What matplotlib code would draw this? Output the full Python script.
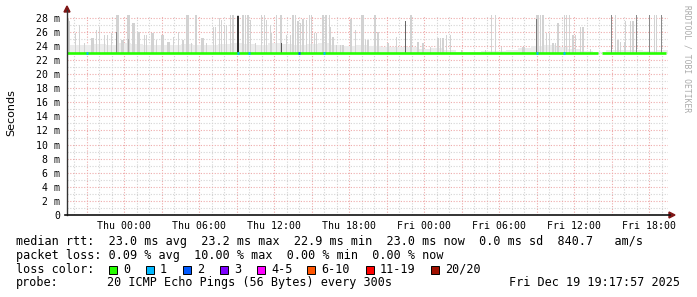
import matplotlib
matplotlib.use("Agg")
import matplotlib.pyplot as plt
from matplotlib.lines import Line2D
from matplotlib.patches import Polygon, Rectangle
import numpy as np

# ---------------- data ----------------
# time axis in hours relative to Thu 00:00
x_start, x_end = -4.58, 43.5
xtick_hours = [0, 6, 12, 18, 24, 30, 36, 42]
xtick_labels = ["Thu 00:00", "Thu 06:00", "Thu 12:00", "Thu 18:00",
                "Fri 00:00", "Fri 06:00", "Fri 12:00", "Fri 18:00"]
ytick_values = list(range(0, 29, 2))
ytick_labels = ["0"] + [f"{v} m" for v in range(2, 29, 2)]
y_top = 28.4

median_ms = 23.0
# light smoke spikes (max ping): time (h), top (ms)
smoke_t = [-4.5, -4.35, -3.9, -3.55, -3.15, -2.65, -2.5, -2.2, -1.95, -1.6, -1.35, -1.0,
           -0.6, -0.5, -0.25, -0.1, 0.3, 0.45, 0.7, 0.85, 1.1, 1.25, 1.6, 1.75, 2.15, 2.3,
           2.6, 2.95, 3.1, 3.5, 3.65, 3.95, 4.35, 4.7, 5.0, 5.1, 5.4, 5.7, 5.8, 6.15, 6.3,
           6.55, 7.15, 7.3, 7.6, 7.75, 8.05, 8.2,
           8.5, 8.7, 9.1, 9.5, 9.7, 9.9, 10.1, 10.5, 11.0, 11.2, 11.4, 11.7, 11.8, 12.2,
           12.5, 12.6, 13.0, 13.3, 13.5, 13.7, 13.9, 14.1, 14.3, 14.6, 14.8, 15.0, 15.2,
           15.4, 15.9, 16.1, 16.2, 16.4, 16.5, 16.7, 17.0, 17.3, 17.5, 18.1, 18.2, 18.5,
           19.0, 19.1, 19.3, 19.5, 20.0, 20.1, 20.3, 21.1, 21.8, 22.5, 22.9, 23.0, 23.5,
           23.9, 24.5, 25.1, 25.3, 25.5, 25.8, 26.1,
           27.0, 28.9, 29.4, 29.7, 30.2, 31.9, 32.0, 33.0, 33.1, 33.3, 33.5, 33.8, 34.0,
           34.3, 34.5, 34.7, 35.2, 35.4, 35.6, 35.9, 36.1, 36.5, 36.7, 37.3,
           39.0, 39.3, 39.5, 39.7, 40.0, 40.1, 40.5, 40.7, 41.0, 42.0, 42.4, 42.6, 43.0]
smoke_top = [27.8, 27.5, 25.8, 27.0, 24.4, 25.1, 25.1, 26.3, 26.7, 25.6, 25.6, 25.8,
             28.4, 28.4, 24.9, 24.9, 28.4, 28.4, 27.2, 27.2, 26.0, 26.0, 25.6, 25.6, 25.8, 25.8,
             24.9, 25.6, 25.6, 24.6, 24.6, 25.3, 26.0, 24.9, 28.4, 28.4, 24.4, 28.4, 28.4, 25.1, 25.1,
             24.4, 26.7, 26.7, 28.0, 27.7, 27.0, 27.0,
             28.4, 28.4, 28.4, 28.4, 28.4, 28.4, 27.7, 24.4, 28.4, 28.4, 27.7, 27.0, 25.8, 28.4,
             28.4, 28.4, 25.6, 25.6, 28.4, 28.4, 27.5, 27.2, 27.9, 27.7, 28.4, 28.4, 25.8,
             25.8, 28.4, 28.4, 28.4, 28.4, 26.7, 25.3, 24.1, 24.1, 24.1, 27.9, 27.9, 26.3,
             28.4, 28.4, 24.9, 24.9, 28.4, 28.4, 26.0, 24.4, 25.3, 27.5, 28.4, 28.4, 24.6,
             24.4, 23.9, 25.1, 25.1, 25.1, 25.6, 25.6,
             23.5, 23.5, 28.4, 28.4, 23.9, 23.9, 23.9, 28.4, 28.4, 28.4, 28.4, 25.8, 25.8,
             24.4, 24.4, 27.2, 28.4, 28.4, 28.4, 25.5, 25.5, 26.7, 26.7, 23.6,
             28.4, 28.4, 24.9, 24.6, 24.6, 27.5, 27.5, 27.5, 28.4, 28.4, 28.4, 28.4, 28.4]
# darker smoke spikes
dark_t = [-0.6, 0.35, 9.1, 12.6, 22.5, 33.0, 39.0, 41.0, 42.0, 43.0]
dark_top = [26.0, 25.0, 28.2, 24.4, 27.5, 27.8, 28.4, 28.4, 28.4, 28.4]
dark_shade = ["#888888", "#aaaaaa", "#303030", "#555555", "#666666", "#777777",
              "#8a8a8a", "#8a8a8a", "#8a8a8a", "#8a8a8a"]

# low smoke band along the median, per hour
base_t = [-4, -3, -2, -1, 0, 1, 2, 3, 4, 5, 6, 7, 8, 9, 10, 11, 12, 13, 14, 15, 16, 17, 18,
          19, 20, 21, 22, 23, 24, 25, 26, 27, 28, 29, 30, 31, 32, 33, 34, 35, 36, 37, 38,
          39, 40, 41, 42, 43]
base_top = [24.2, 24.1, 24.3, 24.2, 24.4, 24.3, 24.2, 24.1, 24.2, 24.3, 24.2, 24.1, 24.3,
            24.4, 24.3, 24.2, 24.4, 24.3, 24.2, 24.3, 24.4, 24.1, 24.0, 24.1, 24.0, 23.9,
            23.8, 23.9, 23.6, 23.7, 23.5, 23.2, 23.2, 23.3, 23.3, 23.5, 23.7, 24.0, 24.1,
            23.9, 23.6, 23.3, 23.2, 23.4, 23.5, 23.4, 23.3, 23.4]

# packet loss segments on the median line: time (h), loss count
loss_t = [-3.0, 9.1, 10.0, 14.0, 16.0, 33.0, 35.2]
loss_n = [1, 1, 1, 2, 1, 1, 1]

loss_colors = {0: "#26ff00", 1: "#00b8ff", 2: "#0059ff", 3: "#7e00ff",
               "4-5": "#ff00ff", "6-10": "#ff5500", "11-19": "#ff0000", "20/20": "#a01000"}
legend_labels = ["0", "1", "2", "3", "4-5", "6-10", "11-19", "20/20"]

rtt_line = "median rtt:  23.0 ms avg  23.2 ms max  22.9 ms min  23.0 ms now  0.0 ms sd  840.7   am/s"
loss_line = "packet loss: 0.09 % avg  10.00 % max  0.00 % min  0.00 % now"
probe_text = "20 ICMP Echo Pings (56 Bytes) every 300s"
date_text = "Fri Dec 19 19:17:57 2025"

# ---------------- figure ----------------
W, H = 697, 297
fig = plt.figure(figsize=(W / 100, H / 100), dpi=100)
fig.patch.set_facecolor("white")

L, R, B, T = 67, 668, 215, 15
ax = fig.add_axes([L / W, 1 - B / H, (R - L) / W, (B - T) / H])
ax.set_xlim(x_start, x_end)
ax.set_ylim(0, y_top)
for s in ax.spines.values():
    s.set_visible(False)

mono = "DejaVu Sans Mono"
dot = (0, (1, 1.5))
# grid
for h in np.arange(np.ceil(x_start), x_end, 1.0):
    major = (int(round(h)) % 3 == 0)
    ax.axvline(h, color="#eeaaaa" if major else "#d4d4d4", lw=0.8, ls=dot, zorder=1)
for v in np.arange(1, y_top, 1.0):
    major = (int(round(v)) % 2 == 0)
    ax.axhline(v, color="#eeaaaa" if major else "#d4d4d4", lw=0.8, ls=dot, zorder=1)

# smoke
px_h = (x_end - x_start) / (R - L)
ax.bar(base_t, np.array(base_top) - median_ms, bottom=median_ms, width=1.0,
       color="#ececec", lw=0, zorder=2, align="center")
ax.bar(smoke_t, np.array(smoke_top) - median_ms, bottom=median_ms, width=1.2 * px_h,
       color="#d2d2d2", lw=0, zorder=2.5, align="center")
ax.bar(dark_t, np.array(dark_top) - median_ms, bottom=median_ms, width=1.1 * px_h,
       color=dark_shade, lw=0, zorder=3, align="center")

# median line
gap_start, gap_end = 37.9, 38.2
ax.plot([x_start, gap_start], [median_ms, median_ms], color=loss_colors[0], lw=1.9,
        solid_capstyle="butt", zorder=4)
ax.plot([gap_end, x_end - 0.2], [median_ms, median_ms], color=loss_colors[0], lw=1.9,
        solid_capstyle="butt", zorder=4)
for t, n in zip(loss_t, loss_n):
    ax.plot([t - px_h, t + px_h], [median_ms, median_ms], color=loss_colors[n], lw=1.9,
            solid_capstyle="butt", zorder=5)

# ticks
ax.set_xticks(xtick_hours)
ax.set_xticklabels(xtick_labels, fontfamily=mono, fontsize=7.1)
ax.set_yticks(ytick_values)
ax.set_yticklabels(ytick_labels, fontfamily=mono, fontsize=7.1)
ax.tick_params(axis="both", length=0, pad=5)
ax.tick_params(axis="x", pad=4)

# axes lines with arrows (figure pixel coords)
def fx(x):
    return x / W

def fy(y):
    return 1 - y / H

fig.add_artist(Line2D([fx(L), fx(L)], [fy(B), fy(10)], color="#333333", lw=1.0))
fig.add_artist(Line2D([fx(L - 2), fx(R + 2)], [fy(B), fy(B)], color="#111111", lw=1.2))
arrow_c = "#7f1515"
fig.add_artist(Polygon([[fx(L - 3), fy(12)], [fx(L + 3), fy(12)], [fx(L), fy(6)]],
                       closed=True, color=arrow_c, transform=fig.transFigure))
fig.add_artist(Polygon([[fx(R + 1), fy(B - 3)], [fx(R + 1), fy(B + 3)], [fx(R + 7), fy(B)]],
                       closed=True, color=arrow_c, transform=fig.transFigure))

# labels
fig.text(fx(11), fy(113), "Seconds", rotation=90, ha="center", va="center",
         fontsize=8, fontfamily="DejaVu Sans")
fig.text(fx(687), fy(5), "RRDTOOL / TOBI OETIKER", rotation=-90, ha="center", va="top",
         fontsize=5.8, fontfamily=mono, color="#aaaaaa")

fs = 8.5
fig.text(fx(16), fy(241.5), rtt_line, fontfamily=mono, fontsize=fs, va="center", ha="left")
fig.text(fx(16), fy(255.3), loss_line, fontfamily=mono, fontsize=fs, va="center", ha="left")
fig.text(fx(16), fy(269.3), "loss color:", fontfamily=mono, fontsize=fs, va="center", ha="left")
box_x = [109, 146, 183, 220, 257, 307, 366, 431]
for bx, lab in zip(box_x, legend_labels):
    key = int(lab) if lab.isdigit() else lab
    fig.add_artist(Rectangle((fx(bx), fy(273.5)), 8 / W, 8 / H, facecolor=loss_colors[key],
                             edgecolor="black", lw=0.7, transform=fig.transFigure))
    fig.text(fx(bx + 14), fy(269.3), lab, fontfamily=mono, fontsize=fs, va="center", ha="left")
fig.text(fx(16), fy(282.8), "probe:", fontfamily=mono, fontsize=fs, va="center", ha="left")
fig.text(fx(107), fy(282.8), probe_text, fontfamily=mono, fontsize=fs, va="center", ha="left")
fig.text(fx(680), fy(282.8), date_text, fontfamily=mono, fontsize=fs, va="center", ha="right")

fig.savefig("out.png", dpi=100, facecolor="white")
